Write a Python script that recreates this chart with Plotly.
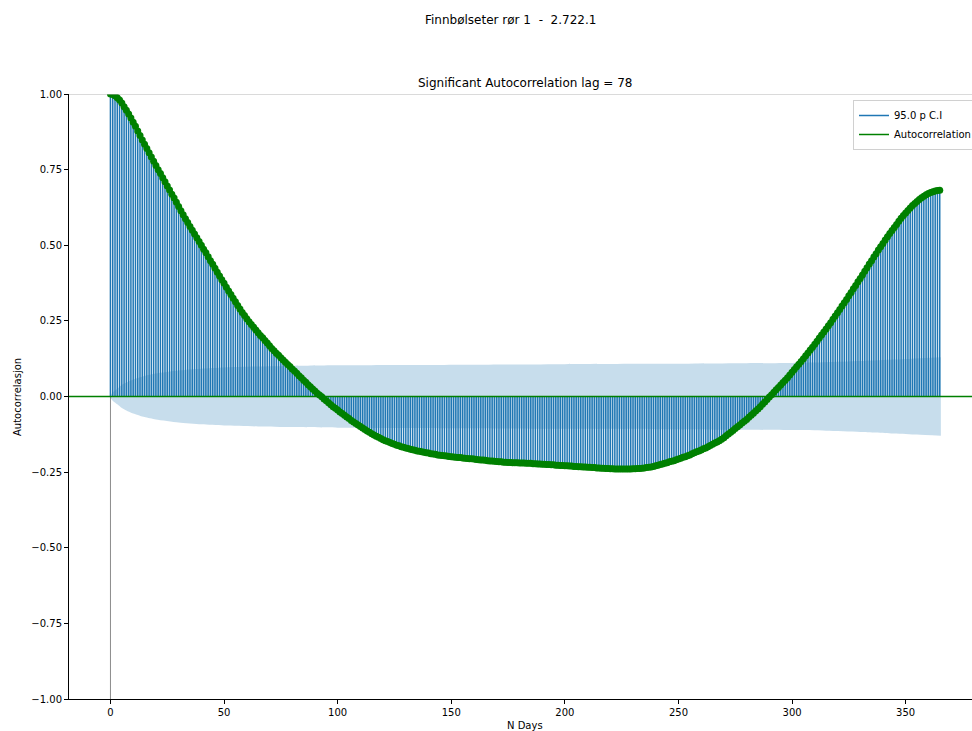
import plotly.graph_objects as go

# ---------------- data ----------------
suptitle = "Finnbølseter rør 1 \u00a0-\u00a0 2.722.1"
axes_title = "Significant Autocorrelation lag = 78"
x_label = "N Days"
y_label = "Autocorrelasjon"
ci_name = "95.0 p C.I"
acf_name = "Autocorrelation"

lags = list(range(0, 366))

acf = [
    1.000, 0.998, 0.994, 0.988, 0.980, 0.970, 0.958, 0.946, 0.934, 0.921,   # 0-9
    0.907, 0.893, 0.878, 0.863, 0.848, 0.834, 0.820, 0.806, 0.792, 0.778,   # 10-19
    0.764, 0.750, 0.737, 0.723, 0.710, 0.696, 0.683, 0.669, 0.656, 0.642,   # 20-29
    0.628, 0.614, 0.601, 0.588, 0.575, 0.562, 0.550, 0.537, 0.525, 0.512,   # 30-39
    0.500, 0.487, 0.475, 0.462, 0.449, 0.437, 0.424, 0.411, 0.398, 0.386,   # 40-49
    0.374, 0.361, 0.349, 0.337, 0.325, 0.313, 0.301, 0.289, 0.278, 0.268,   # 50-59
    0.257, 0.247, 0.238, 0.229, 0.220, 0.211, 0.202, 0.194, 0.185, 0.177,   # 60-69
    0.168, 0.159, 0.151, 0.143, 0.136, 0.128, 0.121, 0.113, 0.106, 0.099,   # 70-79
    0.091, 0.084, 0.077, 0.069, 0.062, 0.054, 0.047, 0.039, 0.032, 0.025,   # 80-89
    0.018, 0.011, 0.005, -0.001, -0.008, -0.014, -0.021, -0.027, -0.034, -0.039,   # 90-99
    -0.045, -0.051, -0.056, -0.062, -0.068, -0.073, -0.079, -0.084, -0.089, -0.094,   # 100-109
    -0.099, -0.104, -0.109, -0.114, -0.118, -0.123, -0.127, -0.131, -0.135, -0.139,   # 110-119
    -0.143, -0.146, -0.149, -0.152, -0.155, -0.158, -0.161, -0.163, -0.166, -0.168,   # 120-129
    -0.170, -0.172, -0.174, -0.176, -0.178, -0.180, -0.181, -0.183, -0.184, -0.186,   # 130-139
    -0.187, -0.189, -0.190, -0.191, -0.193, -0.194, -0.195, -0.196, -0.197, -0.198,   # 140-149
    -0.199, -0.200, -0.201, -0.202, -0.202, -0.203, -0.204, -0.205, -0.206, -0.206,   # 150-159
    -0.207, -0.208, -0.209, -0.210, -0.210, -0.211, -0.212, -0.213, -0.213, -0.214,   # 160-169
    -0.215, -0.216, -0.216, -0.217, -0.217, -0.218, -0.218, -0.219, -0.219, -0.219,   # 170-179
    -0.220, -0.220, -0.220, -0.221, -0.221, -0.221, -0.222, -0.222, -0.223, -0.223,   # 180-189
    -0.224, -0.224, -0.225, -0.225, -0.226, -0.226, -0.227, -0.227, -0.228, -0.228,   # 190-199
    -0.229, -0.229, -0.230, -0.230, -0.231, -0.231, -0.232, -0.232, -0.233, -0.233,   # 200-209
    -0.234, -0.234, -0.235, -0.235, -0.236, -0.236, -0.237, -0.237, -0.238, -0.238,   # 210-219
    -0.239, -0.239, -0.240, -0.240, -0.240, -0.240, -0.240, -0.240, -0.240, -0.240,   # 220-229
    -0.239, -0.239, -0.238, -0.238, -0.237, -0.236, -0.235, -0.234, -0.233, -0.231,   # 230-239
    -0.229, -0.227, -0.225, -0.223, -0.221, -0.219, -0.216, -0.214, -0.212, -0.209,   # 240-249
    -0.207, -0.204, -0.201, -0.199, -0.196, -0.193, -0.189, -0.186, -0.183, -0.180,   # 250-259
    -0.177, -0.173, -0.170, -0.166, -0.162, -0.158, -0.154, -0.150, -0.146, -0.141,   # 260-269
    -0.136, -0.130, -0.124, -0.118, -0.112, -0.106, -0.100, -0.094, -0.088, -0.082,   # 270-279
    -0.076, -0.069, -0.062, -0.055, -0.048, -0.041, -0.034, -0.026, -0.018, -0.010,   # 280-289
    -0.002, 0.006, 0.014, 0.022, 0.030, 0.038, 0.046, 0.054, 0.062, 0.071,   # 290-299
    0.080, 0.089, 0.098, 0.107, 0.116, 0.125, 0.135, 0.144, 0.154, 0.163,   # 300-309
    0.173, 0.183, 0.193, 0.203, 0.213, 0.223, 0.234, 0.244, 0.255, 0.266,   # 310-319
    0.277, 0.288, 0.299, 0.310, 0.321, 0.333, 0.344, 0.356, 0.367, 0.379,   # 320-329
    0.390, 0.402, 0.414, 0.426, 0.438, 0.449, 0.461, 0.472, 0.484, 0.495,   # 330-339
    0.506, 0.517, 0.528, 0.539, 0.549, 0.559, 0.569, 0.579, 0.589, 0.598,   # 340-349
    0.607, 0.615, 0.623, 0.631, 0.638, 0.645, 0.651, 0.657, 0.662, 0.667,   # 350-359
    0.671, 0.674, 0.677, 0.679, 0.681, 0.682,                               # 360-365
]

# confidence band half-width, read at selected lags
band_lag = [-0.5, 1, 2, 3, 5, 7, 10, 15, 20, 30, 40, 50, 65, 80, 100, 130,
            160, 200, 240, 280, 300, 315, 330, 345, 355, 365.5]
band_half = [0.0, 0.014, 0.020, 0.026, 0.038, 0.046, 0.056, 0.068, 0.076,
             0.086, 0.092, 0.096, 0.099, 0.101, 0.103, 0.104, 0.105, 0.107,
             0.108, 0.110, 0.111, 0.113, 0.117, 0.122, 0.126, 0.130]

y_tickvals = [-1.0, -0.75, -0.5, -0.25, 0.0, 0.25, 0.5, 0.75, 1.0]
y_ticktext = ["\u22121.00", "\u22120.75", "\u22120.50", "\u22120.25", "0.00",
              "0.25", "0.50", "0.75", "1.00"]
x_tickvals = [0, 50, 100, 150, 200, 250, 300, 350]
x_ticktext = ["0", "50", "100", "150", "200", "250", "300", "350"]

X_MIN, X_MAX = -18.25, 379.2
Y_MIN, Y_MAX = -1.0, 1.0

# ---------------- figure ----------------
FONT = "DejaVu Sans"
BLUE = "#1f77b4"
GREEN = "#008000"

stem_x, stem_y = [], []
for k, v in zip(lags, acf):
    stem_x += [k, k, None]
    stem_y += [0, v, None]

fig = go.Figure()

fig.add_trace(go.Scatter(
    x=stem_x, y=stem_y, mode="lines", name=ci_name,
    line=dict(color=BLUE, width=1.5), hoverinfo="skip", showlegend=True))

fig.add_trace(go.Scatter(
    x=band_lag, y=[-v for v in band_half], mode="lines",
    line=dict(width=0, shape="spline", smoothing=0.6, color="rgba(0,0,0,0)"),
    hoverinfo="skip", showlegend=False))
fig.add_trace(go.Scatter(
    x=band_lag, y=band_half, mode="lines", fill="tonexty",
    fillcolor="rgba(31,119,180,0.25)",
    line=dict(width=0, shape="spline", smoothing=0.6, color="rgba(0,0,0,0)"),
    hoverinfo="skip", showlegend=False))

fig.add_trace(go.Scatter(
    x=lags, y=acf, mode="markers",
    marker=dict(color=GREEN, size=7, line=dict(width=0)),
    showlegend=False))

fig.add_trace(go.Scatter(
    x=[X_MIN, X_MAX], y=[0, 0], mode="lines", name=acf_name,
    line=dict(color=GREEN, width=1.5), hoverinfo="skip", showlegend=True))

# vertical line at lag 0 and top spine
fig.add_shape(type="line", x0=0, x1=0, y0=Y_MIN, y1=Y_MAX, xref="x", yref="y",
              line=dict(color="#8c8c8c", width=1), layer="below")
fig.add_shape(type="line", x0=X_MIN, x1=X_MAX, y0=Y_MAX, y1=Y_MAX, xref="x", yref="y",
              line=dict(color="#b5b5b5", width=1.2), layer="above")

L, T, B = 69, 94, 32
W, H = 972, 731
pw = W - L
ph = H - T - B

def px_to_paper_x(px):
    return (px - L) / pw

def px_to_paper_y(py):
    return (H - B - py) / ph

annotations = [
    dict(text=suptitle, x=px_to_paper_x(510), y=px_to_paper_y(20),
         xref="paper", yref="paper", showarrow=False, xanchor="center", yanchor="middle",
         font=dict(family=FONT, size=12, color="#000")),
    dict(text=axes_title, x=px_to_paper_x(525), y=px_to_paper_y(83),
         xref="paper", yref="paper", showarrow=False, xanchor="center", yanchor="middle",
         font=dict(family=FONT, size=12, color="#000")),
    dict(text=x_label, x=px_to_paper_x(525), y=px_to_paper_y(725),
         xref="paper", yref="paper", showarrow=False, xanchor="center", yanchor="middle",
         font=dict(family=FONT, size=10, color="#000")),
    dict(text=y_label, x=px_to_paper_x(17), y=px_to_paper_y(397), textangle=-90,
         xref="paper", yref="paper", showarrow=False, xanchor="center", yanchor="middle",
         font=dict(family=FONT, size=10, color="#000")),
]

fig.update_layout(
    width=W, height=H,
    margin=dict(l=L, r=0, t=T, b=B, pad=0, autoexpand=False),
    paper_bgcolor="white", plot_bgcolor="white",
    font=dict(family=FONT, size=10, color="#000"),
    annotations=annotations,
    legend=dict(x=px_to_paper_x(853), y=px_to_paper_y(100), xanchor="left", yanchor="top",
                traceorder="normal",
                bgcolor="rgba(255,255,255,0.85)", bordercolor="#d0d0d0", borderwidth=1,
                font=dict(family=FONT, size=10, color="#000"),
                tracegroupgap=0, itemwidth=30),
    xaxis=dict(range=[X_MIN, X_MAX], showgrid=False, zeroline=False,
               showline=True, linecolor="#000", linewidth=1,
               ticks="outside", ticklen=4, tickwidth=1, tickcolor="#000",
               tickvals=x_tickvals, ticktext=x_ticktext,
               tickfont=dict(family=FONT, size=10, color="#000")),
    yaxis=dict(range=[Y_MIN, Y_MAX], showgrid=False, zeroline=False,
               showline=True, linecolor="#000", linewidth=1,
               ticks="outside", ticklen=4, tickwidth=1, tickcolor="#000",
               tickvals=y_tickvals, ticktext=y_ticktext,
               tickfont=dict(family=FONT, size=10, color="#000")),
)

fig.write_html("out.html")
